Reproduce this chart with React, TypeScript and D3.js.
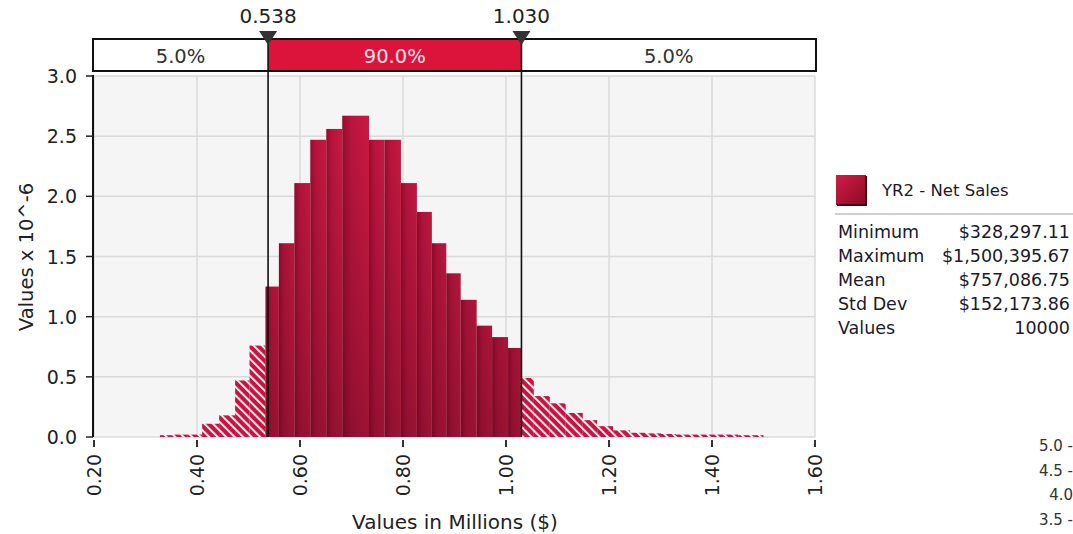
import React from "react";
import * as d3 from "d3";

const binEdges = [0.328, 0.355, 0.382, 0.410, 0.443, 0.474, 0.502, 0.533, 0.559, 0.589, 0.620, 0.651, 0.682, 0.734, 0.764, 0.796, 0.827, 0.856, 0.884, 0.912, 0.943, 0.973, 1.004, 1.029, 1.054, 1.085, 1.116, 1.149, 1.177, 1.208, 1.241, 1.270, 1.301, 1.330, 1.362, 1.391, 1.422, 1.451, 1.482, 1.500];
const densities = [0.015, 0.02, 0.02, 0.11, 0.18, 0.47, 0.76, 1.25, 1.61, 2.11, 2.47, 2.56, 2.67, 2.47, 2.47, 2.11, 1.87, 1.61, 1.36, 1.14, 0.925, 0.83, 0.74, 0.49, 0.34, 0.28, 0.2, 0.14, 0.09, 0.055, 0.035, 0.03, 0.025, 0.02, 0.02, 0.02, 0.02, 0.015, 0.015];
const delimiters = [0.538, 1.03];
const delimiterLabels = ["0.538", "1.030"];
const regionPercents = ["5.0%", "90.0%", "5.0%"];
const xTicks = [0.2, 0.4, 0.6, 0.8, 1.0, 1.2, 1.4, 1.6];
const yTicks = [0, 0.5, 1.0, 1.5, 2.0, 2.5, 3.0];
const seriesName = "YR2 - Net Sales";
const statNames = ["Minimum", "Maximum", "Mean", "Std Dev", "Values"];
const statValues = ["$328,297.11", "$1,500,395.67", "$757,086.75", "$152,173.86", "10000"];
const strayLabels = ["5.0 -", "4.5 -", "4.0", "3.5 -"];

const FONT = "DejaVu Sans";

export default function App() {
  const W = 1073, H = 534;
  const x = d3.scaleLinear().domain([0.2, 1.6]).range([94, 815]);
  const y = d3.scaleLinear().domain([0, 3]).range([437, 76]);
  const plotL = 93, plotR = 815, plotT = 76, plotB = 437;
  const boxT = 39, boxB = 71;
  const bins = densities.map((d, i) => ({ x0: binEdges[i], x1: binEdges[i + 1], d }));
  const inside = (b: { x0: number; x1: number }) => {
    const c = (b.x0 + b.x1) / 2;
    return c >= delimiters[0] && c <= delimiters[1];
  };
  const segs = [plotL, x(delimiters[0]), x(delimiters[1]), plotR + 1];

  return (
    <svg width={W} height={H} style={{ position: "absolute", left: 0, top: 0, background: "#fff" }} fontFamily={FONT}>
      <defs>
        <linearGradient id="solidGrad" x1="0" y1="0" x2="1" y2="0">
          <stop offset="0" stopColor="#9c0d2e" />
          <stop offset="0.35" stopColor="#c01440" />
          <stop offset="1" stopColor="#d01a44" />
        </linearGradient>
        <linearGradient id="shade" gradientUnits="userSpaceOnUse" x1="0" y1={plotT} x2="0" y2={plotB}>
          <stop offset="0" stopColor="#000" stopOpacity="0" />
          <stop offset="1" stopColor="#000" stopOpacity="0.25" />
        </linearGradient>
        <pattern id="hatch" patternUnits="userSpaceOnUse" width="6" height="6" patternTransform="rotate(-45)">
          <rect width="6" height="6" fill="#c8143e" />
          <rect x="0" y="0" width="1.8" height="6" fill="#ffffff" />
        </pattern>
        <linearGradient id="swatch" x1="0" y1="0" x2="1" y2="1">
          <stop offset="0" stopColor="#d41c46" />
          <stop offset="1" stopColor="#8a0a24" />
        </linearGradient>
      </defs>

      {/* plot background */}
      <rect x={plotL} y={plotT} width={plotR - plotL} height={plotB - plotT} fill="#f5f5f5" />
      {yTicks.map((t) => (
        <line key={"gy" + t} x1={plotL} x2={plotR} y1={y(t)} y2={y(t)} stroke="#dadada" strokeWidth={1.5} />
      ))}
      {xTicks.map((t) => (
        <line key={"gx" + t} x1={x(t)} x2={x(t)} y1={plotT} y2={plotB} stroke="#dadada" strokeWidth={1.5} />
      ))}

      {/* bars */}
      {bins.map((b, i) => {
        const bx = x(b.x0), bw = x(b.x1) - x(b.x0), by = y(b.d), bh = y(0) - y(b.d);
        return inside(b) ? (
          <g key={"b" + i}>
            <rect x={bx} y={by} width={bw} height={bh} fill="url(#solidGrad)" />
            <rect x={bx} y={by} width={bw} height={bh} fill="url(#shade)" />
          </g>
        ) : (
          <rect key={"b" + i} x={bx} y={by} width={bw} height={bh} fill="url(#hatch)" />
        );
      })}

      {/* x axis ticks */}
      {xTicks.map((t) => (
        <line key={"tx" + t} x1={x(t)} x2={x(t)} y1={440} y2={447} stroke="#333" strokeWidth={2} />
      ))}
      {xTicks.map((t) => (
        <text key={"lx" + t} transform={`translate(${x(t)},454) rotate(-90)`} textAnchor="end" dominantBaseline="central" fontSize={19} fill="#222">
          {t.toFixed(2)}
        </text>
      ))}

      {/* y axis */}
      <line x1={plotL} x2={plotL} y1={plotT - 1} y2={plotB} stroke="#111" strokeWidth={2} />
      {yTicks.map((t) => (
        <line key={"ty" + t} x1={86} x2={plotL} y1={y(t)} y2={y(t)} stroke="#222" strokeWidth={1.5} />
      ))}
      {yTicks.map((t) => (
        <text key={"ly" + t} x={77} y={y(t)} textAnchor="end" dominantBaseline="central" fontSize={19} fill="#222">
          {t.toFixed(1)}
        </text>
      ))}

      <text transform={`translate(26,257) rotate(-90)`} textAnchor="middle" dominantBaseline="central" fontSize={19.5} fill="#222">
        {"Values x 10^-6"}
      </text>
      <text x={455} y={522} textAnchor="middle" dominantBaseline="central" fontSize={20} fill="#222">
        {"Values in Millions ($)"}
      </text>

      {/* percentile box */}
      <rect x={segs[1]} y={boxT} width={segs[2] - segs[1]} height={boxB - boxT} fill="#dc143c" />
      <rect x={plotL} y={boxT} width={plotR + 1 - plotL} height={boxB - boxT} fill="none" stroke="#111" strokeWidth={2} />
      {regionPercents.map((p, i) => (
        <text key={"p" + i} x={(segs[i] + segs[i + 1]) / 2} y={56} textAnchor="middle" dominantBaseline="central" fontSize={19.5} fill={i === 1 ? "#fbe0e6" : "#333"}>
          {p}
        </text>
      ))}

      {/* delimiters */}
      {delimiters.map((dv, i) => {
        const cx = x(dv);
        return (
          <g key={"d" + i}>
            <line x1={cx} x2={cx} y1={boxT} y2={plotB} stroke="#111" strokeWidth={1.6} />
            <path d={`M${cx - 9},31 L${cx + 9},31 L${cx},45 Z`} fill="#333" />
            <text x={cx} y={16} textAnchor="middle" dominantBaseline="central" fontSize={20} fill="#222">
              {delimiterLabels[i]}
            </text>
          </g>
        );
      })}

      {/* legend */}
      <rect x={836} y={175} width={30} height={30} fill="url(#swatch)" />
      <path d="M866,176 L866,205 L837,205" fill="none" stroke="#4a0612" strokeWidth={2} />
      <text x={882} y={190} dominantBaseline="central" fontSize={16.5} fill="#1a1a2a">
        {seriesName}
      </text>
      <line x1={835} x2={1073} y1={214} y2={214} stroke="#cfcfcf" strokeWidth={2} />
      {statNames.map((n, i) => (
        <g key={"s" + i}>
          <text x={838} y={232 + 24 * i} dominantBaseline="central" fontSize={17.5} fill="#1a1a2a">
            {n}
          </text>
          <text x={1070} y={232 + 24 * i} textAnchor="end" dominantBaseline="central" fontSize={17.5} fill="#1a1a2a">
            {statValues[i]}
          </text>
        </g>
      ))}

      {/* stray axis fragment */}
      {strayLabels.map((s, i) => (
        <text key={"st" + i} x={1073} y={446 + 24.7 * i} textAnchor="end" dominantBaseline="central" fontSize={15} fill="#333">
          {s}
        </text>
      ))}
    </svg>
  );
}
